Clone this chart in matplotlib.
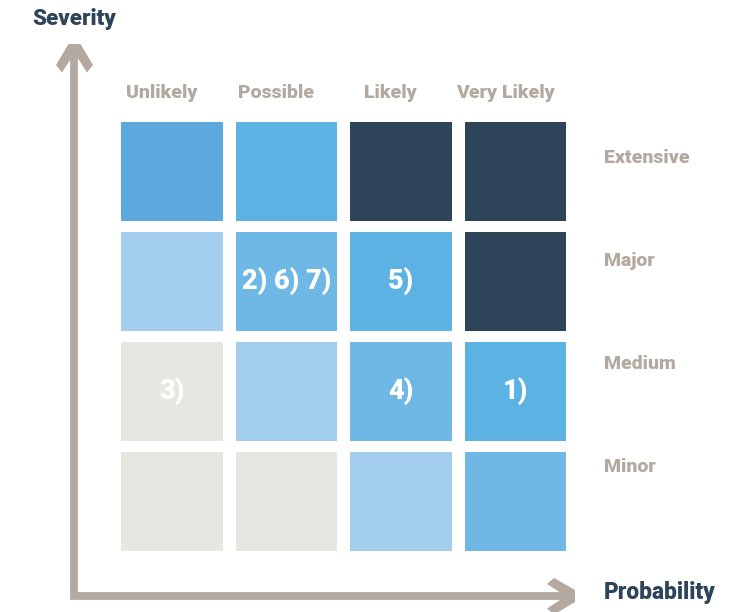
import matplotlib.pyplot as plt
from matplotlib.patches import Polygon
import numpy as np

probability = ['Unlikely', 'Possible', 'Likely', 'Very Likely']
severity = ['Minor', 'Medium', 'Major', 'Extensive']

# risk level of each cell, rows = severity (Minor first), cols = probability
levels = np.array([[0, 0, 1, 2],
                   [0, 1, 2, 3],
                   [1, 2, 3, 4],
                   [5, 3, 4, 4]])
palette = ['#e7e7e2', '#a3cded', '#6fb7e4', '#5cb3e3', '#2e4459', '#5da9dd']

risks = ['1)', '2)', '3)', '4)', '5)', '6)', '7)']
risk_prob = ['Very Likely', 'Possible', 'Unlikely', 'Likely', 'Likely', 'Possible', 'Possible']
risk_sev = ['Medium', 'Major', 'Medium', 'Medium', 'Major', 'Major', 'Major']

grey = '#b4a9a0'
navy = '#2e4459'
plt.rcParams['font.family'] = ['Roboto', 'DejaVu Sans']
W = 'black'

fig = plt.figure(figsize=(7.35, 6.12), dpi=100)

# arrows / titles drawn on a full-figure overlay in pixel units
over = fig.add_axes([0, 0, 1, 1])
over.set_xlim(0, 735)
over.set_ylim(612, 0)
over.axis('off')
over.plot([74.5, 74.5, 566], [53, 596.2, 596.2], color=grey, lw=5.6,
          solid_joinstyle='miter', solid_capstyle='butt')
over.add_patch(Polygon([(68.5, 44), (80.5, 44), (93, 65), (87, 72.5),
                        (74.5, 53), (62, 72.5), (56, 65)], closed=True,
                       color=grey, lw=0))
over.add_patch(Polygon([(575, 590), (575, 602), (554, 614.5), (547, 608.5),
                        (566, 596.2), (547, 584), (554, 578)], closed=True,
                       color=grey, lw=0))
over.text(74.5, 19, 'Severity', color=navy, fontsize=16, fontweight=W,
          ha='center', va='center')
over.text(604, 593, 'Probability', color=navy, fontsize=16.3, fontweight=W,
          ha='left', va='center')

ax = fig.add_axes([114.75 / 735, 55.5 / 612, 458 / 735, 440 / 612])
ax.set_xlim(0, 4)
ax.set_ylim(0, 4)
ax.axis('off')

x = np.arange(len(probability)) + 0.5
for j in range(len(severity)):
    ax.bar(x, 0.9, width=0.89, bottom=j + 0.05,
           color=[palette[l] for l in levels[j]])

# risk numbers in their cells
for j, s in enumerate(severity):
    for i, p in enumerate(probability):
        txt = ' '.join(r for r, rp, rs in zip(risks, risk_prob, risk_sev)
                       if rp == p and rs == s)
        if txt:
            ax.text(i + 0.5, j + 0.5, txt, color='white', fontsize=19.5,
                    fontweight=W, ha='center', va='center')

for i, p in enumerate(probability):
    ax.text(i + 0.41, 4.215, p, color=grey, fontsize=14, fontweight=W,
            ha='center', va='center', clip_on=False)
for j, s in enumerate(severity):
    ax.text(4.273, 0.81 + 0.937 * j, s, color=grey, fontsize=14,
            fontweight=W, ha='left', va='center', clip_on=False)

fig.savefig('out.png', dpi=100)
